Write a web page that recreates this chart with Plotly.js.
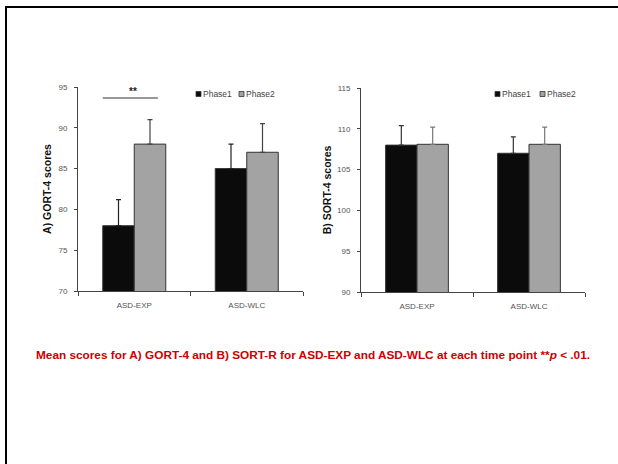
<!DOCTYPE html>
<html><head><meta charset="utf-8">
<script src="https://cdn.plot.ly/plotly-3.0.1.min.js"></script>
<style>html,body{margin:0;padding:0;background:#fff;overflow:hidden}</style>
</head><body>
<div id="chart" style="width:618px;height:464px"></div>
<script>
const groups = ["ASD-EXP", "ASD-WLC"];
const seriesNames = ["Phase1", "Phase2"];
const gortPhase1 = [78, 85];
const gortPhase2 = [88, 87];
const gortErr1 = [3.2, 3.0];
const gortErr2 = [3.0, 3.5];
const sortPhase1 = [108, 107];
const sortPhase2 = [108.1, 108.1];
const sortErr1 = [2.4, 2.0];
const sortErr2 = [2.1, 2.1];
const caption = "Mean scores for A) GORT-4 and B) SORT-R for ASD-EXP and ASD-WLC at each time point **<i>p</i> < .01.";

const c1 = "#0b0b0b", c2 = "#a3a3a3", edge = "#333";
function bar(x, y, err, name, color, xa, ya, errColor) {
  return {type: "bar", x: x, y: y, name: name, xaxis: xa, yaxis: ya, showlegend: false,
    marker: {color: color, line: {color: edge, width: 1}},
    error_y: {type: "data", symmetric: false, array: err, arrayminus: [0, 0], color: errColor, thickness: 1.2, width: 2.5}};
}
const data = [
  bar(groups, gortPhase1, gortErr1, seriesNames[0], c1, "x", "y", "#222"),
  bar(groups, gortPhase2, gortErr2, seriesNames[1], c2, "x", "y", "#444"),
  bar(groups, sortPhase1, sortErr1, seriesNames[0], c1, "x2", "y2", "#333"),
  bar(groups, sortPhase2, sortErr2, seriesNames[1], c2, "x2", "y2", "#777")
];
const fam = "Liberation Sans, Arial, sans-serif";
const tickFont = {family: fam, size: 8, color: "#555"};
const xBase = {type: "category", automargin: false, showline: true, linecolor: "#444", linewidth: 1, ticks: "outside", tickson: "boundaries", ticklen: 4, tickcolor: "#444", tickfont: tickFont, ticklabelstandoff: 6, showgrid: false, zeroline: false};
const yBase = {automargin: false, showline: true, linecolor: "#444", linewidth: 1, ticks: "outside", ticklen: 3, tickcolor: "#444", tickfont: tickFont, ticklabelstandoff: 5, showgrid: false, zeroline: false, dtick: 5};
const titleFont = {family: fam, size: 10.5, color: "#111", weight: "bold"};

// legend swatches (drawn as paper shapes + labels, matching the compact legend of the source)
function legendItems(x0, yPx, step) {
  const shapes = [], anns = [];
  const colors = [c1, c2];
  let x = x0;
  seriesNames.forEach((n, i) => {
    shapes.push({type: "rect", xref: "paper", yref: "paper", x0: x/618, x1: (x+5)/618, y0: 1-(yPx+2.5)/464, y1: 1-(yPx-2.5)/464,
      fillcolor: colors[i], line: {color: edge, width: 0.8}});
    anns.push({xref: "paper", yref: "paper", x: (x+5)/618, y: 1-yPx/464, xanchor: "left", yanchor: "middle", showarrow: false,
      text: n, font: {family: fam, size: 8.5, color: "#444"}});
    x += step;
  });
  return {shapes, anns};
}
const legA = legendItems(196, 94, 43);
const legB = legendItems(495, 94, 45);

const layout = {
  width: 618, height: 464, margin: {l: 0, r: 0, t: 0, b: 0, autoexpand: false},
  paper_bgcolor: "#fff", plot_bgcolor: "#fff",
  barmode: "group", bargap: 0.44, bargroupgap: 0, showlegend: false,
  xaxis: Object.assign({}, xBase, {domain: [78/618, 303/618], anchor: "y"}),
  yaxis: Object.assign({}, yBase, {domain: [1-291/464, 1-87/464], range: [70, 95], anchor: "x",
    title: {text: "A) GORT-4 scores", font: titleFont, standoff: 4}}),
  xaxis2: Object.assign({}, xBase, {domain: [361/618, 585/618], anchor: "y2"}),
  yaxis2: Object.assign({}, yBase, {domain: [1-292/464, 1-88/464], range: [90, 115], anchor: "x2",
    title: {text: "B) SORT-4 scores", font: titleFont, standoff: 3}}),
  shapes: [
    {type: "line", xref: "x", yref: "y", x0: -0.28, x1: 0.21, y0: 93.65, y1: 93.65, line: {color: "#333", width: 1.2}},
    {type: "rect", xref: "paper", yref: "paper", x0: 6/618, x1: 1.05, y0: -0.05, y1: 1-7/464, line: {color: "#000", width: 2}, fillcolor: "rgba(0,0,0,0)"}
  ].concat(legA.shapes, legB.shapes),
  annotations: [
    {xref: "x", yref: "y", x: -0.01, y: 94.5, text: "**", showarrow: false, font: {family: fam, size: 10, color: "#222", weight: "bold"}},
    {xref: "paper", yref: "paper", x: 313/618, y: 1-355/464, text: caption, showarrow: false, xanchor: "center", yanchor: "middle",
     font: {family: fam, size: 11.8, color: "#cc0000", weight: "bold"}}
  ].concat(legA.anns, legB.anns)
};
Plotly.newPlot("chart", data, layout, {staticPlot: true, displayModeBar: false});
</script>
</body></html>
